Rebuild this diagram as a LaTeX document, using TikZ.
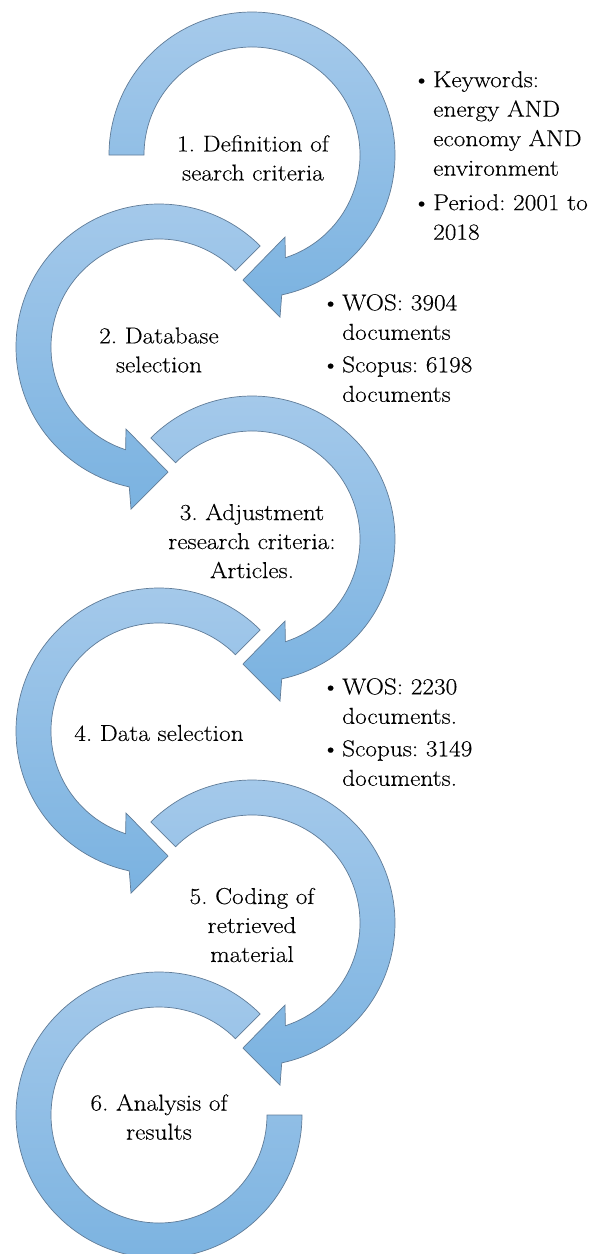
\documentclass[tikz,border=0pt]{standalone}
\usepackage{fontspec}
\setmainfont{Latin Modern Roman}[FakeStretch=1.1, FakeBold=0.25]
\frenchspacing
\definecolor{bandtop}{RGB}{166,202,235}
\definecolor{bandbot}{RGB}{122,178,224}
\definecolor{bandline}{RGB}{96,124,152}
\newcommand{\cwarrow}[3]{%
  \begin{scope}[shift={(#1,-#2)}]
    \path[arrowband] (#3:143) arc[start angle=#3, end angle=-78, radius=143]
      -- (28,-162) -- (-9,-125) -- (33,-82) -- (-72:108)
      arc[start angle=-72, end angle=#3, radius=108] -- cycle;
  \end{scope}}
\newcommand{\ccwarrow}[3]{%
  \begin{scope}[shift={(#1,-#2)}]
    \path[arrowband] (#3:143) arc[start angle=#3, end angle=258, radius=143]
      -- (-28,-162) -- (9,-125) -- (-33,-82) -- (252:108)
      arc[start angle=252, end angle=#3, radius=108] -- cycle;
  \end{scope}}
\newcommand{\bul}{\llap{\textbullet\hspace{2.5pt}}}
\begin{document}
\begin{tikzpicture}[x=1pt,y=1pt,
  arrowband/.style={top color=bandtop, bottom color=bandbot, draw=bandline, line width=0.7pt, line join=miter},
  stagetext/.style={align=center, inner sep=0pt, font=\fontsize{23}{29}\selectfont\frenchspacing},
  bullettext/.style={align=left, inner sep=0pt, anchor=north west, font=\fontsize{23}{29.5}\selectfont\frenchspacing}]
\useasboundingbox (0,0) rectangle (594,-1254);
\fill[white] (0,0) rectangle (594,-1254);
% circular arrows
\cwarrow{252}{155}{180}
\ccwarrow{159}{347}{45}
\cwarrow{252}{539}{135}
\ccwarrow{159}{731}{45}
\cwarrow{252}{923}{135}
\begin{scope}[shift={(159,-1115)}]
  \path[arrowband] (45:143) arc[start angle=45, end angle=360, radius=143]
    -- (360:108) arc[start angle=360, end angle=45, radius=108] -- cycle;
\end{scope}
% stage labels
\node[stagetext] (s1) at (253,-158) {1. Definition of\\search criteria};
\node[stagetext] (s2) at (159,-350) {2. Database\\selection};
\node[stagetext] (s3) at (252,-541) {3. Adjustment\\research criteria:\\Articles.};
\node[stagetext] (s4) at (159,-733) {4. Data selection};
\node[stagetext] (s5) at (252,-925) {5. Coding of\\retrieved\\material};
\node[stagetext] (s6) at (159,-1117) {6. Analysis of\\results};
% bullet lists
\node[bullettext] (b1) at (433,-71) {\bul Keywords:\\energy AND\\economy AND\\environment\\[5pt]\bul Period: 2001 to\\2018};
\node[bullettext] (b2) at (342,-294) {\bul WOS: 3904\\documents\\[3pt]\bul Scopus: 6198\\documents};
\node[bullettext] (b3) at (342,-678) {\bul WOS: 2230\\documents.\\[3pt]\bul Scopus: 3149\\documents.};
\end{tikzpicture}
\end{document}
